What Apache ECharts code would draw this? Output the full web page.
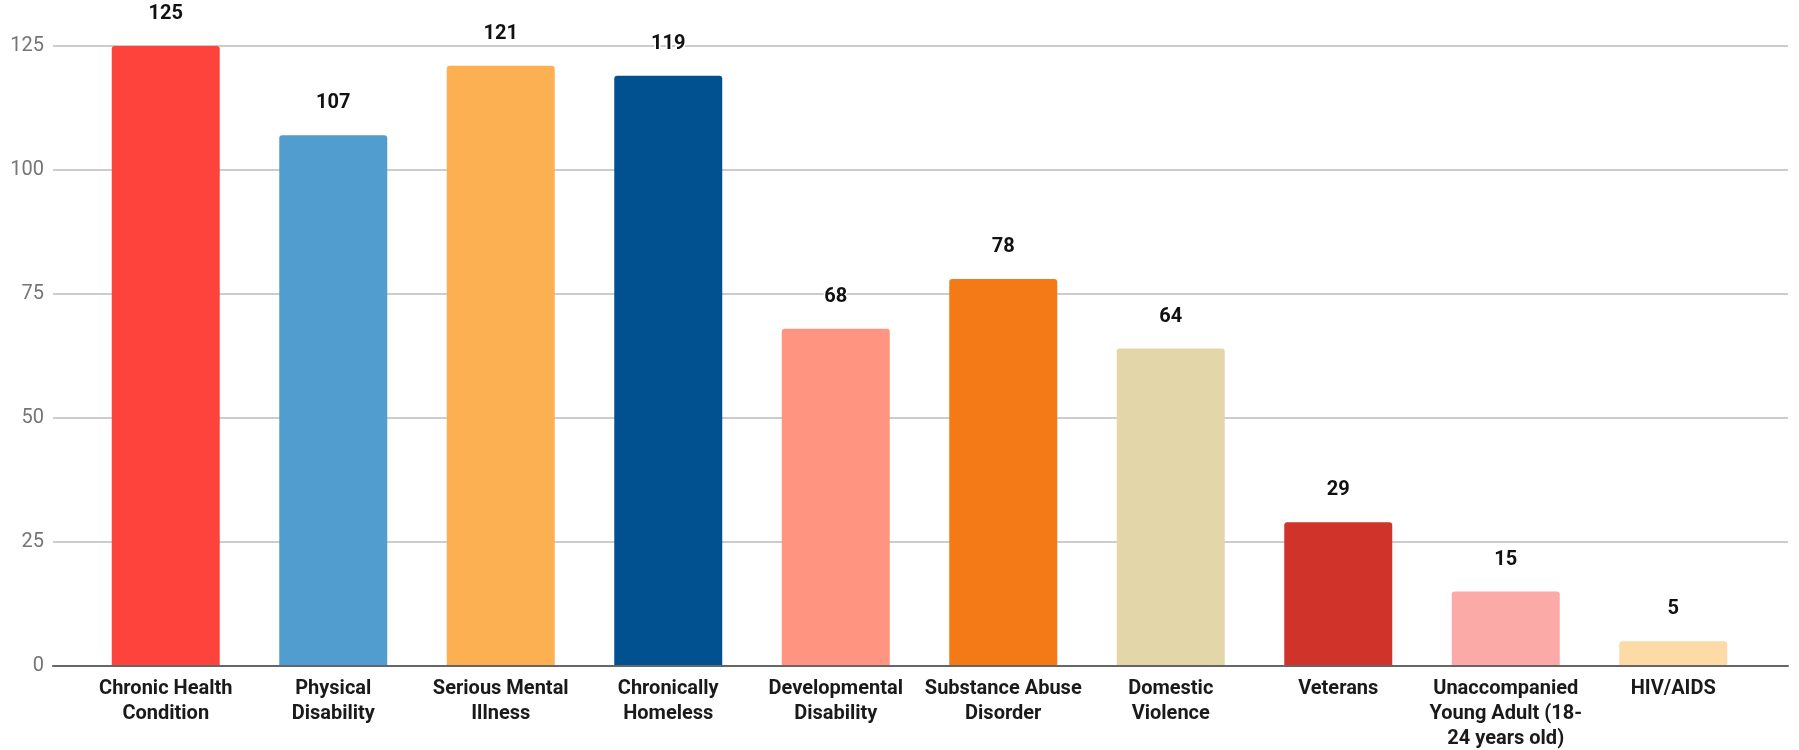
<!DOCTYPE html>
<html>
<head>
<meta charset="utf-8">
<script src="https://cdn.jsdelivr.net/npm/echarts@6/dist/echarts.min.js"></script>
<style>
html,body{margin:0;padding:0;background:#fff;}
#chart{width:1799px;height:750px;}
</style>
</head>
<body>
<div id="chart"></div>
<script>
const categories = [
  "Chronic Health\nCondition",
  "Physical\nDisability",
  "Serious Mental\nIllness",
  "Chronically\nHomeless",
  "Developmental\nDisability",
  "Substance Abuse\nDisorder",
  "Domestic\nViolence",
  "Veterans",
  "Unaccompanied\nYoung Adult (18-\n24 years old)",
  "HIV/AIDS"
];
const values = [125, 107, 121, 119, 68, 78, 64, 29, 15, 5];
const barColors = ["#fe433c", "#529dd0", "#fdb052", "#015190", "#ff9580", "#f47a17", "#e3d6a8", "#d03329", "#fcaaa8", "#fddba6"];
const yTicks = [0, 25, 50, 75, 100, 125];

const chart = echarts.init(document.getElementById('chart'), null, {renderer: 'canvas'});
const yMin = yTicks[0], yMax = yTicks[yTicks.length - 1], yStep = yTicks[1] - yTicks[0];
chart.setOption({
  animation: false,
  backgroundColor: '#fff',
  grid: [
    {left: 53, right: 11, top: 46, bottom: 84, containLabel: false, outerBoundsMode: 'none'},
    {left: 82, right: 42, top: 46, bottom: 84, containLabel: false, outerBoundsMode: 'none'}
  ],
  xAxis: [
    {gridIndex: 0, type: 'category', data: [''], axisTick: {show: false}, axisLabel: {show: false},
     axisLine: {show: true, lineStyle: {color: '#666', width: 2}}, z: 5},
    {gridIndex: 1, type: 'category', data: categories, axisTick: {show: false},
     axisLine: {show: false},
     axisLabel: {interval: 0, margin: 10, fontFamily: 'Roboto', fontWeight: 'bold', fontSize: 20,
                 lineHeight: 25, color: '#1a1a1a'}}
  ],
  yAxis: [
    {gridIndex: 0, type: 'value', min: yMin, max: yMax, interval: yStep,
     axisLine: {show: false}, axisTick: {show: false},
     axisLabel: {margin: 9, fontFamily: 'Roboto', fontSize: 20, color: '#757575'},
     splitLine: {lineStyle: {color: '#cccccc', width: 2}}},
    {gridIndex: 1, type: 'value', min: yMin, max: yMax, interval: yStep, show: false}
  ],
  series: [{
    type: 'bar',
    xAxisIndex: 1, yAxisIndex: 1,
    barWidth: 108,
    data: values.map((v, i) => ({value: v, itemStyle: {color: barColors[i]}})),
    itemStyle: {borderRadius: [3, 3, 0, 0]},
    label: {show: true, position: 'top', distance: 22, fontFamily: 'Roboto', fontWeight: 'bold',
            fontSize: 20, color: '#111', textBorderColor: '#fff', textBorderWidth: 3}
  }]
});
</script>
</body>
</html>
